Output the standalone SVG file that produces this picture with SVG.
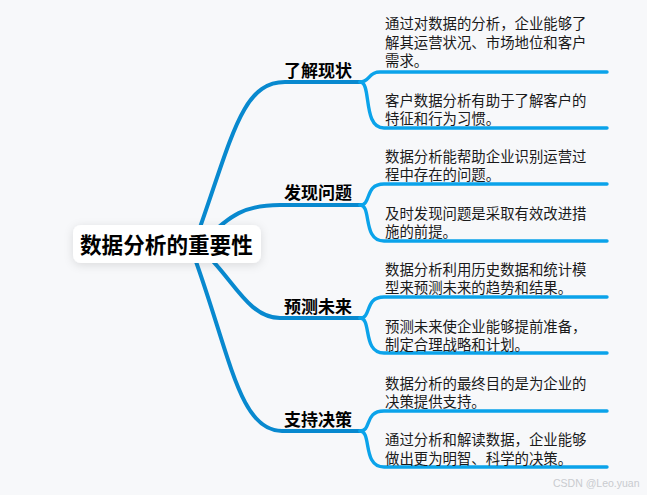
<svg xmlns="http://www.w3.org/2000/svg" width="647" height="495" viewBox="0 0 647 495">
<defs>
<filter id="sh" x="-20%" y="-60%" width="140%" height="220%">
<feDropShadow dx="0" dy="2" stdDeviation="5" flood-color="#000" flood-opacity="0.12"/>
</filter>
</defs>
<style>
.l1{fill:none;stroke:#0889cf;stroke-width:4;stroke-linecap:round}
.l2{fill:none;stroke:#0ba3ea;stroke-width:3.4;stroke-linecap:round}
.t1{font-family:"Liberation Sans","Noto Sans CJK SC",sans-serif;font-size:17px;font-weight:bold;fill:#000}
.t2{font-family:"Liberation Sans","Noto Sans CJK SC",sans-serif;font-size:14.4px;fill:#1a1a1a}
.root{font-family:"Liberation Sans","Noto Sans CJK SC",sans-serif;font-size:21.6px;font-weight:bold;fill:#000}
.wm{font-family:"Liberation Sans","Noto Sans",sans-serif;font-size:10.5px;fill:#c9cbcf}
</style>
<rect width="647" height="495" fill="#f7f8fa"/>
<g id="connectors">
<path class="l1" d="M192,250 C232,140 240,82 285,82 L360,82"/>
<path class="l1" d="M205,240 C230,215 245,205 280,205 L360,205"/>
<path class="l1" d="M195,245 C230,270 245,318 280,318 L360,318"/>
<path class="l1" d="M190,245 C230,352 238,431 282,431 L360,431"/>
<path class="l2" d="M360,82 C370,82 368,72 380,72 L607,72"/>
<path class="l2" d="M360,82 C372,82 362,128 384,128 L607,128"/>
<path class="l2" d="M360,205 C372,205 364,184 384,184 L607,184"/>
<path class="l2" d="M360,205 C372,205 362,241 384,241 L607,241"/>
<path class="l2" d="M360,318 C372,318 364,297 384,297 L607,297"/>
<path class="l2" d="M360,318 C372,318 362,353 384,353 L607,353"/>
<path class="l2" d="M360,431 C372,431 364,411 384,411 L607,411"/>
<path class="l2" d="M360,431 C372,431 362,467 384,467 L607,467"/>
</g>
<g id="root">
<rect x="73" y="225" width="188" height="38" rx="8" fill="#fff" filter="url(#sh)"/>
<text class="root" x="80" y="253">数据分析的重要性</text>
</g>
<g id="n1"><text class="t1" x="284" y="77">了解现状</text></g>
<g id="n2"><text class="t1" x="284" y="199">发现问题</text></g>
<g id="n3"><text class="t1" x="284" y="313">预测未来</text></g>
<g id="n4"><text class="t1" x="284" y="426">支持决策</text></g>
<g id="n1a"><text class="t2" x="385" y="29">通过对数据的分析，企业能够了</text><text class="t2" x="385" y="47.5">解其运营状况、市场地位和客户</text><text class="t2" x="385" y="66">需求。</text></g>
<g id="n1b"><text class="t2" x="385" y="105.5">客户数据分析有助于了解客户的</text><text class="t2" x="385" y="124">特征和行为习惯。</text></g>
<g id="n2a"><text class="t2" x="385" y="162">数据分析能帮助企业识别运营过</text><text class="t2" x="385" y="180">程中存在的问题。</text></g>
<g id="n2b"><text class="t2" x="385" y="218.5">及时发现问题是采取有效改进措</text><text class="t2" x="385" y="237">施的前提。</text></g>
<g id="n3a"><text class="t2" x="385" y="275">数据分析利用历史数据和统计模</text><text class="t2" x="385" y="293">型来预测未来的趋势和结果。</text></g>
<g id="n3b"><text class="t2" x="385" y="331.5">预测未来使企业能够提前准备，</text><text class="t2" x="385" y="350">制定合理战略和计划。</text></g>
<g id="n4a"><text class="t2" x="385" y="388.5">数据分析的最终目的是为企业的</text><text class="t2" x="385" y="407">决策提供支持。</text></g>
<g id="n4b"><text class="t2" x="385" y="445">通过分析和解读数据，企业能够</text><text class="t2" x="385" y="463.5">做出更为明智、科学的决策。</text></g>
<text class="wm" x="553" y="487">CSDN @Leo.yuan</text>
</svg>
